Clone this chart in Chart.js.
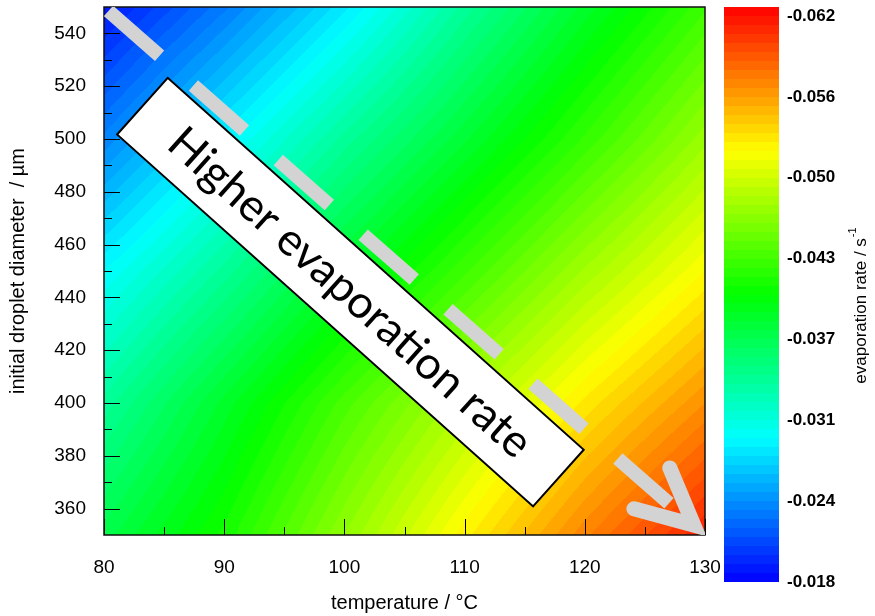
<!DOCTYPE html>
<html><head><meta charset="utf-8">
<script src="https://cdn.jsdelivr.net/npm/chart.js@4.4.1/dist/chart.umd.min.js"></script>
<style>html,body{margin:0;padding:0;background:#fff;}</style>
</head><body>
<canvas id="c" width="875" height="616"></canvas>
<script>
// ---- data ----
const temperatures = [80, 90, 100, 110, 120, 130];          // °C
const diameters = [350, 400, 450, 500, 550];                  // µm
// evaporation rate / s^-1 (one array per diameter, columns follow temperatures)
const rate350 = [-0.0369, -0.0409, -0.0462, -0.0514, -0.0563, -0.0607];
const rate400 = [-0.0334, -0.0382, -0.0431, -0.0475, -0.0519, -0.0558];
const rate450 = [-0.0290, -0.0334, -0.0382, -0.0426, -0.0470, -0.0510];
const rate500 = [-0.0237, -0.0286, -0.0334, -0.0378, -0.0422, -0.0466];
const rate550 = [-0.0189, -0.0233, -0.0281, -0.0334, -0.0382, -0.0426];
const rateRows = [rate350, rate400, rate450, rate500, rate550];

const xTicks = [80, 90, 100, 110, 120, 130];
const xMinorTicks = [85, 95, 105, 115, 125];
const yTicks = [360, 380, 400, 420, 440, 460, 480, 500, 520, 540];
const yMinorTicks = [370, 390, 410, 430, 450, 470, 490, 510, 530];
const colorbarLabels = ['-0.062', '-0.056', '-0.050', '-0.043', '-0.037', '-0.031', '-0.024', '-0.018'];
const colorMin = -0.062, colorMax = -0.018;
const colorLevels = 64;
const annotationText = 'Higher evaporation rate';

// ---- helpers ----
function jet(t) {
  t = Math.max(0, Math.min(1, t));
  let r, g, b;
  if (t < 0.25) { r = 0; g = 255 * t / 0.25; b = 255; }
  else if (t < 0.5) { r = 0; g = 255; b = 255 * (1 - (t - 0.25) / 0.25); }
  else if (t < 0.75) { r = 255 * (t - 0.5) / 0.25; g = 255; b = 0; }
  else { r = 255; g = 255 * (1 - (t - 0.75) / 0.25); b = 0; }
  return [Math.round(r), Math.round(g), Math.round(b)];
}
function levelColor(v) {
  const t = (colorMax - v) / (colorMax - colorMin);
  const q = Math.max(0, Math.min(colorLevels - 1, Math.floor(t * colorLevels)));
  return jet((q + 0.5) / colorLevels);
}
function findCell(arr, v) {
  let i = 0;
  while (i < arr.length - 2 && v > arr[i + 1]) i++;
  let f = (v - arr[i]) / (arr[i + 1] - arr[i]);
  f = Math.max(0, Math.min(1, f));
  return [i, f];
}
function interp(T, D) {
  const [i, fx] = findCell(temperatures, T);
  const [j, fy] = findCell(diameters, D);
  const a = rateRows[j][i], b = rateRows[j][i + 1], c = rateRows[j + 1][i], d = rateRows[j + 1][i + 1];
  return (a * (1 - fx) + b * fx) * (1 - fy) + (c * (1 - fx) + d * fx) * fy;
}

const gridPoints = [];
diameters.forEach((D, j) => temperatures.forEach((T, i) => gridPoints.push({x: T, y: D, v: rateRows[j][i]})));

const FONT = "'Liberation Sans', Arial, sans-serif";

const heatPlugin = {
  id: 'heat',
  beforeDatasetsDraw(chart) {
    const {ctx, chartArea: a, scales: {x, y}} = chart;
    const L = Math.round(a.left), R = Math.round(a.right), Tp = Math.round(a.top), B = Math.round(a.bottom);
    const w = R - L, h = B - Tp;
    const off = document.createElement('canvas'); off.width = w; off.height = h;
    const octx = off.getContext('2d');
    const img = octx.createImageData(w, h);
    for (let jj = 0; jj < h; jj++) {
      const D = y.getValueForPixel(Tp + jj + 0.5);
      for (let ii = 0; ii < w; ii++) {
        const T = x.getValueForPixel(L + ii + 0.5);
        const c = levelColor(interp(T, D));
        const k = (jj * w + ii) * 4;
        img.data[k] = c[0]; img.data[k + 1] = c[1]; img.data[k + 2] = c[2]; img.data[k + 3] = 255;
      }
    }
    octx.putImageData(img, 0, 0);
    ctx.drawImage(off, L, Tp);
  }
};

const overlayPlugin = {
  id: 'overlay',
  afterDatasetsDraw(chart) {
    const {ctx, chartArea: a, scales: {x, y}} = chart;
    ctx.save();
    // ticks (inward)
    ctx.strokeStyle = '#000'; ctx.lineWidth = 1;
    ctx.beginPath();
    const tick = (px, len, vertical) => {
      if (vertical) { const xx = Math.round(px) + 0.5; ctx.moveTo(xx, a.bottom); ctx.lineTo(xx, a.bottom - len); }
      else { const yy = Math.round(px) + 0.5; ctx.moveTo(a.left, yy); ctx.lineTo(a.left + len, yy); }
    };
    xTicks.forEach(v => tick(x.getPixelForValue(v), 16, true));
    xMinorTicks.forEach(v => tick(x.getPixelForValue(v), 8, true));
    yTicks.forEach(v => tick(y.getPixelForValue(v), 16, false));
    yMinorTicks.forEach(v => tick(y.getPixelForValue(v), 8, false));
    ctx.stroke();
    // frame
    ctx.lineWidth = 1.5; ctx.strokeStyle = '#111';
    ctx.strokeRect(a.left, a.top, a.right - a.left, a.bottom - a.top);

    // dashed arrow along the diagonal
    ctx.beginPath(); ctx.rect(a.left, a.top, a.right - a.left, a.bottom - a.top); ctx.clip();
    const tipX = x.getPixelForValue(130), tipY = y.getPixelForValue(350);
    const tailX = x.getPixelForValue(80), tailY = y.getPixelForValue(550);
    const len = Math.hypot(tailX - tipX, tailY - tipY);
    const ux = (tailX - tipX) / len, uy = (tailY - tipY) / len;
    ctx.strokeStyle = '#d3d3d3'; ctx.lineWidth = 14; ctx.lineCap = 'butt';
    for (let s = 48; s < len + 20; s += 113) {
      ctx.beginPath();
      ctx.moveTo(tipX + ux * s, tipY + uy * s);
      ctx.lineTo(tipX + ux * (s + 68), tipY + uy * (s + 68));
      ctx.stroke();
    }
    // arrow head
    const hx = tipX + ux * 15, hy = tipY + uy * 15;
    const ang = 26 * Math.PI / 180, arm = 62;
    const rot = (vx, vy, t) => [vx * Math.cos(t) - vy * Math.sin(t), vx * Math.sin(t) + vy * Math.cos(t)];
    const [ax1, ay1] = rot(ux, uy, ang), [ax2, ay2] = rot(ux, uy, -ang);
    ctx.lineWidth = 15;
    ctx.lineCap = 'round'; ctx.lineJoin = 'miter'; ctx.miterLimit = 10;
    ctx.beginPath();
    ctx.moveTo(hx + ax1 * arm, hy + ay1 * arm);
    ctx.lineTo(hx, hy);
    ctx.lineTo(hx + ax2 * arm, hy + ay2 * arm);
    ctx.stroke();

    // text box
    const cx = x.getPixelForValue(100.5), cy = y.getPixelForValue(442);
    ctx.translate(cx, cy);
    ctx.rotate(41.8 * Math.PI / 180);
    ctx.fillStyle = '#fff'; ctx.strokeStyle = '#000'; ctx.lineWidth = 2; ctx.lineJoin = 'miter';
    ctx.beginPath(); ctx.rect(-279, -38, 558, 76); ctx.fill(); ctx.stroke();
    ctx.font = "40px Lato, 'Open Sans', sans-serif";
    const m = ctx.measureText(annotationText).width;
    const fs = 40 * 470 / m;
    ctx.font = fs.toFixed(1) + "px Lato, 'Open Sans', sans-serif";
    ctx.fillStyle = '#000'; ctx.textAlign = 'center'; ctx.textBaseline = 'middle';
    ctx.fillText(annotationText, 0, 1);
    ctx.restore();
  },
  afterDraw(chart) {
    const {ctx} = chart;
    ctx.save();
    // colour bar
    const cbL = 724, cbR = 779, cbT = 7, cbB = 582;
    const bh = (cbB - cbT) / colorLevels;
    for (let k = 0; k < colorLevels; k++) {
      const c = jet(1 - (k + 0.5) / colorLevels);
      ctx.fillStyle = `rgb(${c[0]},${c[1]},${c[2]})`;
      const y0 = Math.round(cbT + k * bh), y1 = Math.round(cbT + (k + 1) * bh);
      ctx.fillRect(cbL, y0, cbR - cbL, y1 - y0);
    }
    ctx.fillStyle = '#000';
    ctx.font = 'bold 17px ' + FONT;
    ctx.textAlign = 'left'; ctx.textBaseline = 'middle';
    const lt = 16, lb = 582;
    colorbarLabels.forEach((s, i) => {
      ctx.fillText(s, 787, lt + i * (lb - lt) / (colorbarLabels.length - 1));
    });
    // colour bar title
    ctx.translate(861, 306);
    ctx.rotate(-Math.PI / 2);
    const main = 'evaporation rate / s', sup = '-1';
    ctx.font = '17px ' + FONT;
    const w1 = ctx.measureText(main).width;
    ctx.font = '11px ' + FONT;
    const w2 = ctx.measureText(sup).width;
    const start = -(w1 + w2) / 2;
    ctx.textAlign = 'left'; ctx.textBaseline = 'middle';
    ctx.font = '17px ' + FONT;
    ctx.fillText(main, start, 0);
    ctx.font = '11px ' + FONT;
    ctx.fillText(sup, start + w1 + 1, -8);
    ctx.restore();
  }
};

function noPad(s) { s.paddingTop = 0; s.paddingBottom = 0; s.paddingLeft = 0; s.paddingRight = 0; }

new Chart(document.getElementById('c'), {
  type: 'scatter',
  data: { datasets: [{ data: gridPoints, pointRadius: 0, pointHoverRadius: 0, showLine: false }] },
  options: {
    responsive: false, animation: false,
    events: [],
    layout: { padding: { top: 7, right: 170, bottom: 0, left: 0 } },
    plugins: { legend: { display: false }, tooltip: { enabled: false } },
    scales: {
      x: {
        type: 'linear', min: 80, max: 130,
        afterBuildTicks: s => { s.ticks = xTicks.map(v => ({ value: v })); },
        afterFit: s => { s.height = 81; noPad(s); },
        grid: { display: false }, border: { display: false },
        ticks: { padding: 13, color: '#000', font: { family: FONT, size: 19 }, maxRotation: 0, autoSkip: false },
        title: { display: true, text: 'temperature / °C', color: '#000', font: { family: FONT, size: 20 }, padding: { top: 0, bottom: 1 } }
      },
      y: {
        type: 'linear', min: 350, max: 550,
        afterBuildTicks: s => { s.ticks = yTicks.map(v => ({ value: v })); },
        afterFit: s => { s.width = 104; noPad(s); },
        grid: { display: false }, border: { display: false },
        ticks: { padding: 10, color: '#000', font: { family: FONT, size: 19 }, autoSkip: false },
        title: { display: true, text: 'initial droplet diameter  / µm', color: '#000', font: { family: FONT, size: 20 }, padding: { top: 6, bottom: 0 } }
      }
    }
  },
  plugins: [heatPlugin, overlayPlugin]
});
</script>
</body></html>
